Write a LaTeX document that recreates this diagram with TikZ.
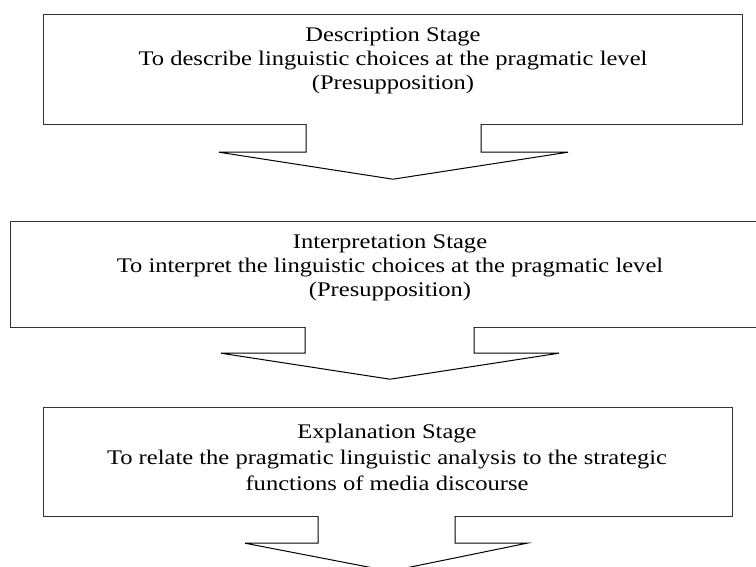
\documentclass[tikz,border=0pt]{standalone}
\usepackage{fontspec}
\setmainfont{Liberation Serif}
\usetikzlibrary{calc}
\begin{document}
\begin{tikzpicture}[x=1pt,y=-1pt,
  stagebox/.style={rectangle, inner sep=0pt},
  boxline/.style={line width=1.3pt, draw=black!80, line join=miter},
  arrowline/.style={line width=1pt, draw=black, line join=miter},
  stagetext/.style={align=center, xscale=1.18, font=\fontsize{20.8}{24}\selectfont, inner sep=0pt}]
\useasboundingbox (0,0) rectangle (756,566);
\clip (0,0) rectangle (756,566);
% boxes
\node[stagebox, minimum width=698pt, minimum height=109pt] (b1) at (393,69.5) {};
\node[stagebox, minimum width=758pt, minimum height=105pt] (b2) at (390,274.5) {};
\node[stagebox, minimum width=688pt, minimum height=108pt] (b3) at (388,462) {};
% texts
\node[stagetext] (t1) at (393,61) {Description Stage\\To describe linguistic choices at the pragmatic level\\(Presupposition)};
\node[stagetext] (t2) at (390,268) {Interpretation Stage\\To interpret the linguistic choices at the pragmatic level\\(Presupposition)};
\node[stagetext, font=\fontsize{20.8}{26}\selectfont] (t3) at (387,457) {Explanation Stage\\To relate the pragmatic linguistic analysis to the strategic\\functions of media discourse};
% box 1 outline and arrow
\draw[boxline] ($(b1.south)+(-87,0)$) -- (b1.south west) -- (b1.north west) -- (b1.north east) -- (b1.south east) -- ($(b1.south)+(88,0)$);
\draw[arrowline] ($(b1.south)+(-87,0)$) -- ($(b1.south)+(-87,28)$) -- ($(b1.south)+(-174,28)$) -- ($(b1.south)+(0,55)$) -- ($(b1.south)+(175,28)$) -- ($(b1.south)+(88,28)$) -- ($(b1.south)+(88,0)$);
% box 2 outline and arrow
\draw[boxline] ($(b2.south)+(-85,0)$) -- (b2.south west) -- (b2.north west) -- (b2.north east) -- (b2.south east) -- ($(b2.south)+(84,0)$);
\draw[arrowline] ($(b2.south)+(-85,0)$) -- ($(b2.south)+(-85,26)$) -- ($(b2.south)+(-169,26)$) -- ($(b2.south)+(0,52)$) -- ($(b2.south)+(169,26)$) -- ($(b2.south)+(84,26)$) -- ($(b2.south)+(84,0)$);
% box 3 outline and arrow
\draw[boxline] ($(b3.south)+(-70,0)$) -- (b3.south west) -- (b3.north west) -- (b3.north east) -- (b3.south east) -- ($(b3.south)+(67,0)$);
\draw[arrowline] ($(b3.south)+(-70,0)$) -- ($(b3.south)+(-70,27)$) -- ($(b3.south)+(-143,27)$) -- ($(b3.south)+(2,55)$) -- ($(b3.south)+(139,27)$) -- ($(b3.south)+(67,27)$) -- ($(b3.south)+(67,0)$);
\end{tikzpicture}
\end{document}
